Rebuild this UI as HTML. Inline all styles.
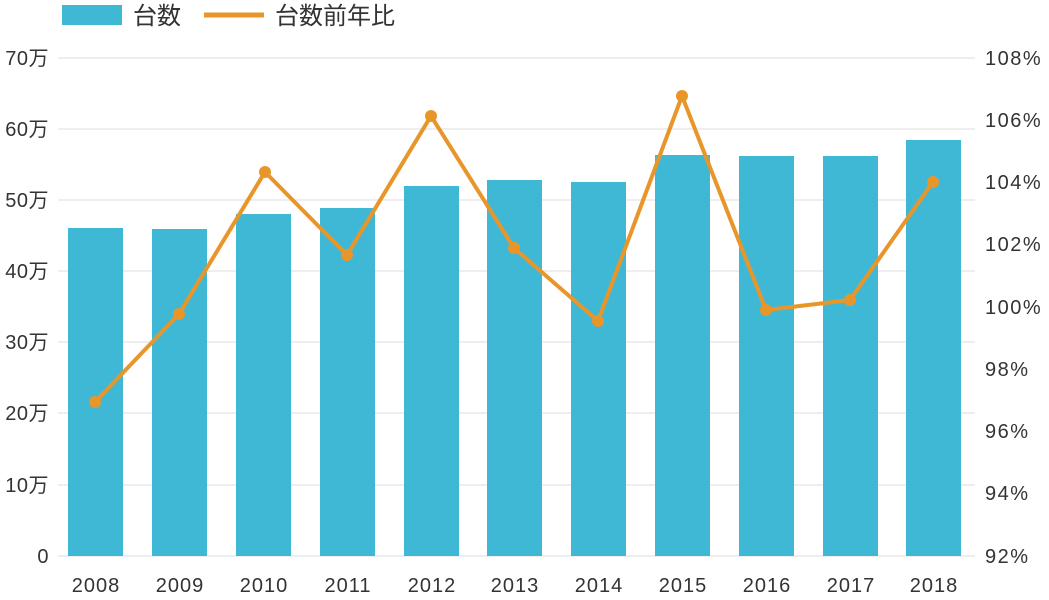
<!DOCTYPE html>
<html><head><meta charset="utf-8"><style>
body{margin:0;background:#fff;}
text{font-family:"Liberation Sans","Noto Sans CJK JP",sans-serif;fill:#333;}
</style></head><body>
<svg width="1049" height="595" xmlns="http://www.w3.org/2000/svg">
<g stroke="#dcdcdc" stroke-width="1">
<line x1="58" x2="975" y1="58" y2="58"/><line x1="58" x2="975" y1="129" y2="129"/>
<line x1="58" x2="975" y1="200" y2="200"/><line x1="58" x2="975" y1="271" y2="271"/>
<line x1="58" x2="975" y1="342" y2="342"/><line x1="58" x2="975" y1="413" y2="413"/>
<line x1="58" x2="975" y1="485" y2="485"/><line x1="58" x2="975" y1="556" y2="556"/>
</g>
<g font-size="20" text-anchor="end" letter-spacing="0.5">
<text x="49" y="65">70万</text><text x="49" y="136">60万</text><text x="49" y="207">50万</text>
<text x="49" y="278">40万</text><text x="49" y="349">30万</text><text x="49" y="420">20万</text>
<text x="49" y="492">10万</text><text x="49" y="563">0</text>
</g>
<g font-size="20" text-anchor="start" letter-spacing="1.5">
<text x="985" y="65">108%</text><text x="985" y="127">106%</text><text x="985" y="189">104%</text>
<text x="985" y="251">102%</text><text x="985" y="314">100%</text><text x="985" y="376">98%</text>
<text x="985" y="438">96%</text><text x="985" y="500">94%</text><text x="985" y="563">92%</text>
</g>
<g fill="#3fb8d6">
<rect x="68" y="228" width="55" height="328"/><rect x="152" y="229" width="55" height="327"/>
<rect x="236" y="214" width="55" height="342"/><rect x="320" y="208" width="55" height="348"/>
<rect x="404" y="186" width="55" height="370"/><rect x="487" y="180" width="55" height="376"/>
<rect x="571" y="182" width="55" height="374"/><rect x="655" y="155" width="55" height="401"/>
<rect x="739" y="156" width="55" height="400"/><rect x="823" y="156" width="55" height="400"/>
<rect x="906" y="140" width="55" height="416"/>
</g>
<polyline fill="none" stroke="#e8962a" stroke-width="4" stroke-linejoin="round" points="95,402 179,314 265,172 347,255 431,116 514,248 598,321 682,96 766,310 850,300 933,182"/>
<g fill="#e8962a">
<circle cx="95" cy="402" r="6"/><circle cx="179" cy="314" r="6"/><circle cx="265" cy="172" r="6"/>
<circle cx="347" cy="255" r="6"/><circle cx="431" cy="116" r="6"/><circle cx="514" cy="248" r="6"/>
<circle cx="598" cy="321" r="6"/><circle cx="682" cy="96" r="6"/><circle cx="766" cy="310" r="6"/>
<circle cx="850" cy="300" r="6"/><circle cx="933" cy="182" r="6"/>
</g>
<g font-size="20" text-anchor="middle" letter-spacing="1">
<text x="96" y="592">2008</text><text x="180" y="592">2009</text><text x="264" y="592">2010</text>
<text x="348" y="592">2011</text><text x="432" y="592">2012</text><text x="515" y="592">2013</text>
<text x="599" y="592">2014</text><text x="683" y="592">2015</text><text x="767" y="592">2016</text>
<text x="851" y="592">2017</text><text x="934" y="592">2018</text>
</g>
<rect x="62" y="5" width="60" height="20" fill="#3fb8d6"/>
<text x="133" y="24" font-size="24">台数</text>
<line x1="204" x2="264" y1="15" y2="15" stroke="#e8962a" stroke-width="5"/>
<text x="275" y="24" font-size="24">台数前年比</text>
</svg>
</body></html>
